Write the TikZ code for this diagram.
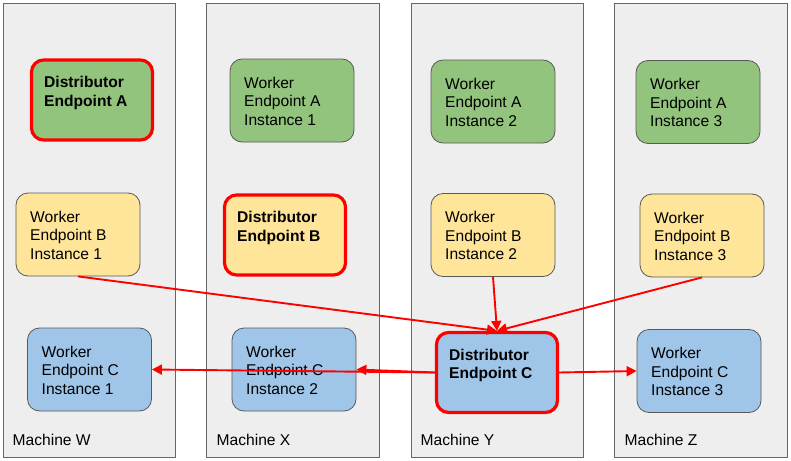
\documentclass[tikz,border=0pt]{standalone}
\usepackage{fontspec}
\setmainfont{Liberation Sans}
\usetikzlibrary{arrows.meta}
\definecolor{mbg}{HTML}{EEEEEE}
\definecolor{mline}{HTML}{666666}
\definecolor{bline}{HTML}{595959}
\definecolor{gfill}{HTML}{93C47D}
\definecolor{yfill}{HTML}{FFE599}
\definecolor{bfill}{HTML}{9FC5E8}
\definecolor{rline}{HTML}{FF0000}
\newcommand\boxtext[1]{\parbox[t]{110pt}{\raggedright\fontsize{15.6}{18.7}\selectfont #1}}
\tikzset{
  machine/.style={draw=mline, fill=mbg, line width=0.9pt, rectangle, inner sep=0pt, anchor=north west},
  mlabel/.style={anchor=base west, inner sep=0pt, font=\fontsize{15.6}{18.7}\selectfont},
  worker/.style={draw=bline, line width=0.8pt, rounded corners=12pt, minimum width=124pt, minimum height=83pt, inner sep=0pt},
  distrib/.style={draw=rline, line width=3.2pt, rounded corners=12pt, minimum width=121pt, minimum height=80pt, inner sep=0pt},
  btext/.style={anchor=base west, inner sep=0pt},
  conn/.style={draw=rline, line width=1.9pt, -{Triangle[length=10pt,width=10pt]}}
}
\begin{document}
\begin{tikzpicture}[x=1pt,y=-1pt]
\useasboundingbox (0,0) rectangle (791,460);
% machines
\node[machine, minimum width=172.5pt, minimum height=453.5pt] (mW) at (2.5,3.5) {};
\node[machine, minimum width=173pt, minimum height=453.5pt] (mX) at (206,3.5) {};
\node[machine, minimum width=172.5pt, minimum height=453.5pt] (mY) at (410.5,3.5) {};
\node[machine, minimum width=173pt, minimum height=453.5pt] (mZ) at (614,3.5) {};
\node[mlabel] (lW) at (12.5,445) {Machine W};
\node[mlabel] (lX) at (216.5,445) {Machine X};
\node[mlabel] (lY) at (420.5,445) {Machine Y};
\node[mlabel] (lZ) at (624.5,445) {Machine Z};
% row A
\node[distrib, fill=gfill] (DA) at (92,100) {};
\node[btext] (tDA) at (44,87.5) {\boxtext{\bfseries Distributor\\Endpoint A}};
\node[worker, fill=gfill] (WA1) at (292,100.5) {};
\node[btext] (tWA1) at (244,88) {\boxtext{Worker\\Endpoint A\\Instance 1}};
\node[worker, fill=gfill] (WA2) at (493,101.5) {};
\node[btext] (tWA2) at (445,89) {\boxtext{Worker\\Endpoint A\\Instance 2}};
\node[worker, fill=gfill] (WA3) at (698,102) {};
\node[btext] (tWA3) at (650,89.5) {\boxtext{Worker\\Endpoint A\\Instance 3}};
% row B
\node[worker, fill=yfill] (WB1) at (78,234.5) {};
\node[btext] (tWB1) at (30,222) {\boxtext{Worker\\Endpoint B\\Instance 1}};
\node[distrib, fill=yfill] (DB) at (285,235) {};
\node[btext] (tDB) at (237,222.5) {\boxtext{\bfseries Distributor\\Endpoint B}};
\node[worker, fill=yfill] (WB2) at (493,235) {};
\node[btext] (tWB2) at (445,222.5) {\boxtext{Worker\\Endpoint B\\Instance 2}};
\node[worker, fill=yfill] (WB3) at (702,235.5) {};
\node[btext] (tWB3) at (654,223) {\boxtext{Worker\\Endpoint B\\Instance 3}};
% row C
\node[worker, fill=bfill] (WC1) at (89.5,369.5) {};
\node[btext] (tWC1) at (41.5,357) {\boxtext{Worker\\Endpoint C\\Instance 1}};
\node[worker, fill=bfill] (WC2) at (294,369.5) {};
\node[btext] (tWC2) at (246,357) {\boxtext{Worker\\Endpoint C\\Instance 2}};
\node[distrib, fill=bfill] (DC) at (497,372.5) {};
\node[btext] (tDC) at (449,360) {\boxtext{\bfseries Distributor\\Endpoint C}};
\node[worker, fill=bfill] (WC3) at (699,371) {};
\node[btext] (tWC3) at (651,358.5) {\boxtext{Worker\\Endpoint C\\Instance 3}};
% connectors
\draw[conn] (WB1.south) -- (DC.north);
\draw[conn] (WB2.south) -- (DC.north);
\draw[conn] (WB3.south) -- (DC.north);
\draw[conn] (DC.west) -- (WC2.east);
\draw[conn] (DC.west) -- (WC1.east);
\draw[conn] (DC.east) -- (WC3.west);
\end{tikzpicture}
\end{document}
